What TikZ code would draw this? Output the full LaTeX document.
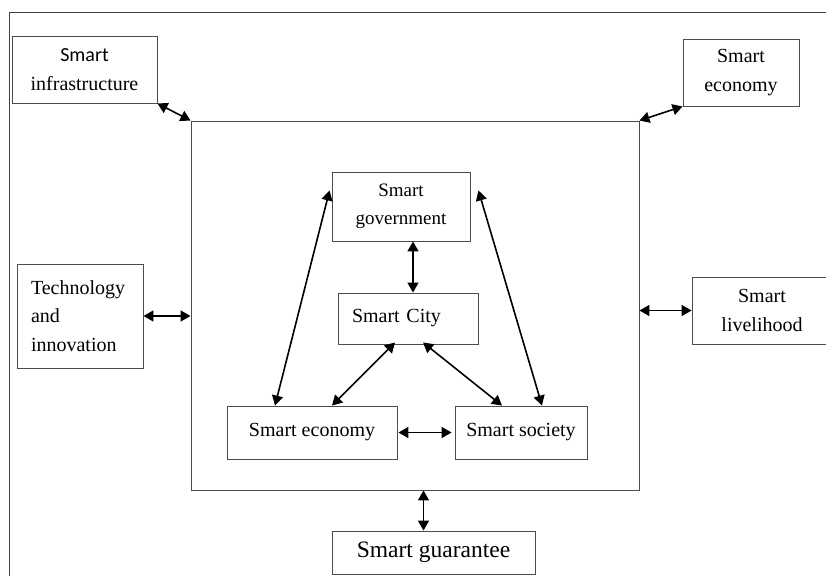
\documentclass[tikz,border=0pt]{standalone}
\usepackage{fontspec}
\setmainfont{Liberation Serif}
\newfontfamily\sanssmart{Carlito}
\usetikzlibrary{arrows.meta,positioning}

\begin{document}
\begin{tikzpicture}[x=1pt,y=-1pt,
    box/.style={draw=black!70,line width=.9pt,inner sep=0pt,align=center,
      font=\fontsize{20}{28.5}\selectfont},
    link/.style={{Triangle[length=10pt,width=11pt]}-{Triangle[length=10pt,width=11pt]},line width=1.6pt}]
  \useasboundingbox (0,0) rectangle (826,575);
  \clip (0,0) rectangle (826,575);
  % outer frame, open on the right and at the bottom
  \draw[black!75,line width=.9pt] (9,580) -- (9,12.7) -- (830,12.7);
  % the big square round the core
  \node[box,minimum width=448pt,minimum height=369pt] (core) at (415,305.5) {};
  % outer ring
  \node[box,minimum width=145pt,minimum height=67pt] (infra) at (84.5,69.5) {{\sanssmart Smart}\\infrastructure};
  \node[box,minimum width=116pt,minimum height=67pt] (econtop) at (741,72.5) {Smart\\economy};
  \node[box,minimum width=126pt,minimum height=104pt,text width=98pt,align=left] (tech) at (80,316) {Technology\\and\\innovation};
  \node[box,minimum width=140pt,minimum height=67pt] (live) at (762,310.5) {Smart\\livelihood};
  \node[box,minimum width=203pt,minimum height=43pt,font=\fontsize{23.5}{28}\selectfont] (guar) at (433.5,552.5) {Smart guarantee};
  % core
  \node[box,minimum width=138pt,minimum height=69pt,font=\fontsize{19}{28}\selectfont] (gov) at (401,206.5) {Smart\\government};
  \node[box,minimum width=140pt,minimum height=51pt,text width=112pt,align=left] (city) at (408,318.5) {Smart City};
  \node[box,minimum width=170pt,minimum height=53pt] (econ) at (312,432.5) {Smart economy};
  \node[box,minimum width=132pt,minimum height=53pt] (soc) at (521,432.5) {Smart society};
  % links
  \draw[link] (infra.south east) -- (core.north west);
  \draw[link] (econtop.south west) -- (core.north east);
  \draw[link] (tech.east) -- (tech.east -| core.west);
  \draw[link] (core.east |- live.west) -- (live.west);
  \draw[link] ([xshift=-10pt]guar.north) -- ([xshift=-10pt]guar.north |- core.south);
  \draw[link] ([xshift=12pt]gov.south) -- ([xshift=12pt]gov.south |- city.north);
  \draw[link] ([shift={(-2pt,16pt)}]gov.west) -- ([xshift=-37pt]econ.north);
  \draw[link] ([shift={(8pt,16pt)}]gov.east) -- ([xshift=21pt]soc.north);
  \draw[link] ([shift={(-13pt,2pt)}]city.south) -- ([xshift=20pt]econ.north);
  \draw[link] ([shift={(15pt,2pt)}]city.south) -- ([xshift=-19pt]soc.north);
  \draw[link] ([xshift=1pt]econ.east) -- ([xshift=-3pt]soc.west);
\end{tikzpicture}
\end{document}
